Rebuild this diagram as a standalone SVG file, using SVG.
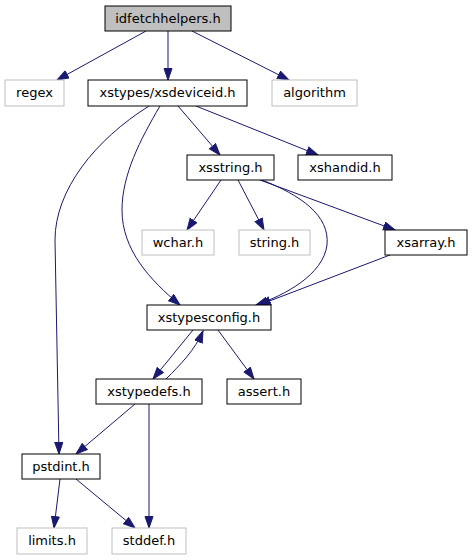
<svg xmlns="http://www.w3.org/2000/svg" width="473" height="560" viewBox="0 0 473 560">
<style>
.n rect{fill:#fff;stroke:#000;stroke-width:1}
.g rect{fill:#fff;stroke:#bfbfbf;stroke-width:1}
.root rect{fill:#bfbfbf;stroke:#000;stroke-width:1}
text{font-family:"DejaVu Sans",sans-serif;font-size:13px;text-anchor:middle;fill:#000}
#edges path{fill:none;stroke:#191970;stroke-width:1;marker-end:url(#ah)}
</style>
<defs>
<marker id="ah" markerUnits="userSpaceOnUse" markerWidth="14" markerHeight="11" refX="12" refY="4.5" orient="auto">
<path d="M0.5,0.5 L12,4.5 L0.5,8.5 z" fill="#191970" stroke="#191970" stroke-width="1"/>
</marker>
</defs>
<rect width="473" height="560" fill="#fff"/>
<g id="edges">
<path d="M146,31 L57,80"/>
<path d="M168,31 L168,80"/>
<path d="M192,31 L289,80"/>
<path d="M178,106 L220,155"/>
<path d="M196,106 L318,155"/>
<path d="M149,106 C95,140 55,190 55,240 L59,454"/>
<path d="M160,106 C140,140 122,175 122,210 C122,250 150,280 180,305"/>
<path d="M221,180 L187,230"/>
<path d="M238,180 L264,230"/>
<path d="M260,180 L395,230"/>
<path d="M262,180 C300,195 330,215 327,245 C323,275 285,295 256,305"/>
<path d="M390,255 L259,305"/>
<path d="M193,330 L153,379"/>
<path d="M166,379 C180,365 195,350 203,331"/>
<path d="M218,330 L254,379"/>
<path d="M135,404 L76,454"/>
<path d="M149,404 L149,528"/>
<path d="M60,479 L54,528"/>
<path d="M76,479 L135,528"/>
</g>
<g id="idfetchhelpers" class="root"><rect x="105" y="6" width="126" height="25"/><text x="168" y="22.5">idfetchhelpers.h</text></g>
<g id="regex" class="g"><rect x="5" y="80" width="59" height="26"/><text x="34.5" y="97">regex</text></g>
<g id="xsdeviceid" class="n"><rect x="88" y="80" width="159" height="26"/><text x="167.5" y="97">xstypes/xsdeviceid.h</text></g>
<g id="algorithm" class="g"><rect x="272" y="80" width="85" height="26"/><text x="314.5" y="97">algorithm</text></g>
<g id="xsstring" class="n"><rect x="187" y="155" width="87" height="25"/><text x="230.5" y="171.5">xsstring.h</text></g>
<g id="xshandid" class="n"><rect x="298" y="155" width="94" height="25"/><text x="345" y="171.5">xshandid.h</text></g>
<g id="wchar" class="g"><rect x="142" y="230" width="72" height="25"/><text x="178" y="246.5">wchar.h</text></g>
<g id="string" class="g"><rect x="239" y="230" width="71" height="25"/><text x="274.5" y="246.5">string.h</text></g>
<g id="xsarray" class="n"><rect x="385" y="230" width="82" height="25"/><text x="426" y="246.5">xsarray.h</text></g>
<g id="xstypesconfig" class="n"><rect x="147" y="305" width="124" height="25"/><text x="209" y="321.5">xstypesconfig.h</text></g>
<g id="xstypedefs" class="n"><rect x="96" y="379" width="106" height="25"/><text x="149" y="395.5">xstypedefs.h</text></g>
<g id="assert" class="n"><rect x="227" y="379" width="74" height="25"/><text x="264" y="395.5">assert.h</text></g>
<g id="pstdint" class="n"><rect x="22" y="454" width="78" height="25"/><text x="61" y="470.5">pstdint.h</text></g>
<g id="limits" class="g"><rect x="17" y="528" width="70" height="26"/><text x="52" y="545">limits.h</text></g>
<g id="stddef" class="g"><rect x="112" y="528" width="74" height="26"/><text x="149" y="545">stddef.h</text></g>
</svg>
